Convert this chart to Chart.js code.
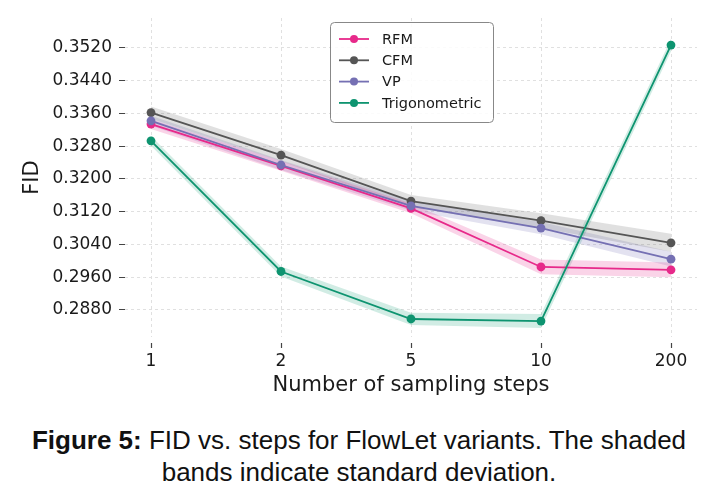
<!DOCTYPE html>
<html>
<head>
<meta charset="utf-8">
<script src="https://cdn.jsdelivr.net/npm/chart.js@4"></script>
<style>
  html, body { margin: 0; padding: 0; background: #fff; }
  #wrap { width: 718px; height: 400px; position: relative; }
  #caption {
    width: 718px;
    margin-top: 24px;
    text-align: center;
    font-family: "Liberation Sans", Arial, sans-serif;
    font-size: 26px;
    line-height: 32px;
    color: #111;
  }
</style>
</head>
<body>
<div id="wrap"><canvas id="chart" width="718" height="400"></canvas></div>
<div id="caption"><b>Figure 5:</b> FID vs. steps for FlowLet variants. The shaded<br>bands indicate standard deviation.</div>
<script>
const steps = ['1', '2', '5', '10', '200'];
const yTicks = [0.288, 0.296, 0.304, 0.312, 0.320, 0.328, 0.336, 0.344, 0.352];

const seriesNames = ['RFM', 'CFM', 'VP', 'Trigonometric'];
const seriesColors = ['#e7298a', '#555555', '#7570b3', '#0e9470'];
const bandColors = ['rgba(231,41,138,0.2)', 'rgba(85,85,85,0.18)', 'rgba(117,112,179,0.2)', 'rgba(27,158,119,0.2)'];

const rfm = [0.3334, 0.3232, 0.3128, 0.2985, 0.2978];
const cfm = [0.3362, 0.3258, 0.3146, 0.3098, 0.3044];
const vp = [0.3342, 0.3234, 0.3134, 0.3080, 0.3004];
const trig = [0.3293, 0.2974, 0.2858, 0.2853, 0.3527];

const rfmStd = [0.0012, 0.0012, 0.0012, 0.0018, 0.0018];
const cfmStd = [0.0015, 0.0015, 0.0015, 0.0018, 0.0022];
const vpStd = [0.0012, 0.0012, 0.0012, 0.0015, 0.0018];
const trigStd = [0.0012, 0.0012, 0.0015, 0.0017, 0.0015];

const values = [rfm, cfm, vp, trig];
const stds = [rfmStd, cfmStd, vpStd, trigStd];

const font = "'DejaVu Sans', sans-serif";
const textColor = '#1a1a1a';

const datasets = [];
values.forEach((vals, s) => {
  // band: lower edge then upper edge filled to it
  datasets.push({
    data: vals.map((v, i) => ({ x: i, y: v - stds[s][i] })),
    borderWidth: 0, pointRadius: 0, fill: false, order: 10,
    borderColor: 'rgba(0,0,0,0)'
  });
  datasets.push({
    data: vals.map((v, i) => ({ x: i, y: v + stds[s][i] })),
    borderWidth: 0, pointRadius: 0, fill: '-1', order: 10,
    borderColor: 'rgba(0,0,0,0)', backgroundColor: bandColors[s]
  });
});
values.forEach((vals, s) => {
  datasets.push({
    label: seriesNames[s],
    data: vals.map((v, i) => ({ x: i, y: v })),
    borderColor: seriesColors[s],
    backgroundColor: seriesColors[s],
    borderWidth: 1.8,
    pointRadius: 4.4,
    pointBorderWidth: 0,
    fill: false,
    order: 3 - s
  });
});

// matplotlib-style legend inside the plot, upper center
const innerLegend = {
  id: 'innerLegend',
  afterDraw(chart) {
    const ctx = chart.ctx;
    const x0 = 330.5, y0 = 22.5, w = 163, h = 100;
    ctx.save();
    ctx.beginPath();
    ctx.roundRect(x0, y0, w, h, 4);
    ctx.fillStyle = 'rgba(255,255,255,0.85)';
    ctx.fill();
    ctx.strokeStyle = '#888';
    ctx.lineWidth = 1;
    ctx.stroke();
    ctx.font = '14.5px ' + font;
    ctx.textBaseline = 'middle';
    seriesNames.forEach((name, s) => {
      const y = 39 + s * 21.3;
      ctx.strokeStyle = seriesColors[s];
      ctx.lineWidth = 1.8;
      ctx.beginPath();
      ctx.moveTo(339, y);
      ctx.lineTo(369, y);
      ctx.stroke();
      ctx.fillStyle = seriesColors[s];
      ctx.beginPath();
      ctx.arc(354, y, 4, 0, Math.PI * 2);
      ctx.fill();
      ctx.fillStyle = textColor;
      ctx.fillText(name, 382, y + 1);
    });
    ctx.restore();
  }
};

new Chart(document.getElementById('chart'), {
  type: 'line',
  data: { datasets: datasets },
  options: {
    responsive: false,
    animation: false,
    layout: { padding: { top: 18, right: 21, left: 0, bottom: 0 } },
    plugins: {
      legend: { display: false },
      tooltip: { enabled: false },
      filler: { drawTime: 'beforeDatasetsDraw' }
    },
    scales: {
      x: {
        type: 'linear',
        min: -0.2,
        max: 4.2,
        afterBuildTicks: (scale) => { scale.ticks = steps.map((s, i) => ({ value: i })); },
        afterFit: (scale) => { scale.height = 63; },
        border: { display: false, dash: [3, 3] },
        grid: {
          color: '#e0e0e0',
          lineWidth: 1,
          drawTicks: true,
          tickLength: 11,
          tickColor: '#444',
          tickWidth: 1.2,
          tickBorderDash: [0, 6, 5, 100]
        },
        ticks: {
          padding: 3,
          color: textColor,
          font: { family: font, size: 17 },
          callback: (v) => steps[v]
        },
        title: {
          display: true,
          text: 'Number of sampling steps',
          color: textColor,
          font: { family: font, size: 21 },
          padding: { top: 0, bottom: 2 }
        }
      },
      y: {
        min: 0.2814,
        max: 0.3593,
        afterBuildTicks: (scale) => { scale.ticks = yTicks.map(v => ({ value: v })); },
        afterFit: (scale) => { scale.width = 125; },
        border: { display: false, dash: [3, 3] },
        grid: {
          color: '#e0e0e0',
          lineWidth: 1,
          drawTicks: true,
          tickLength: 8,
          tickColor: '#444',
          tickWidth: 1.2,
          tickBorderDash: [0, 2, 6, 100]
        },
        ticks: {
          padding: 5,
          color: textColor,
          font: { family: font, size: 17 },
          callback: (v) => v.toFixed(4)
        },
        title: {
          display: true,
          text: 'FID',
          color: textColor,
          font: { family: font, size: 21 },
          padding: { top: 20, bottom: 0 }
        }
      }
    }
  },
  plugins: [innerLegend]
});
</script>
</body>
</html>
